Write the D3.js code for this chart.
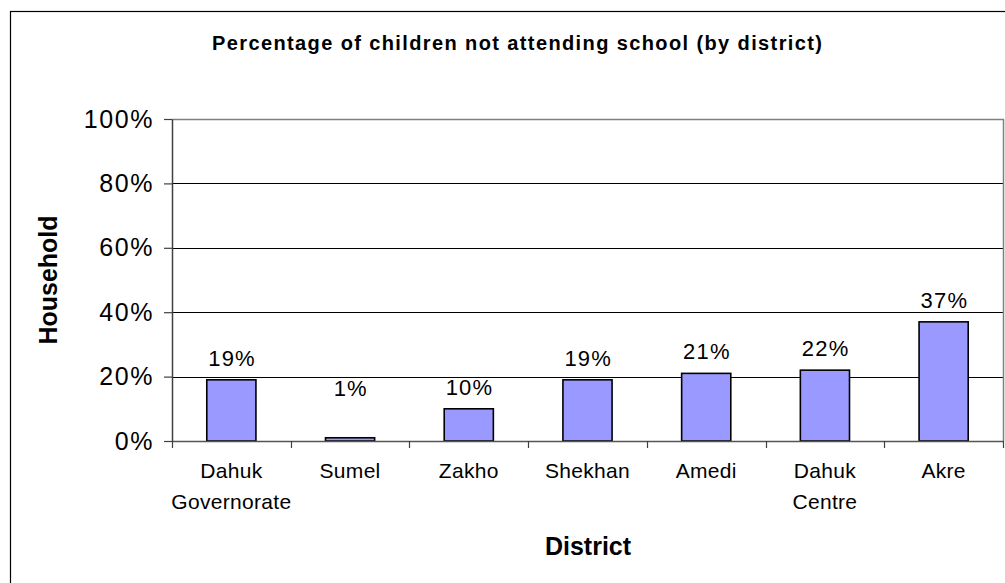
<!DOCTYPE html>
<html>
<head>
<meta charset="utf-8">
<script src="https://cdn.jsdelivr.net/npm/d3@7"></script>
<style>
  html, body { margin: 0; padding: 0; background: #fff; }
  svg { display: block; font-family: Arial, "Liberation Sans", sans-serif; }
</style>
</head>
<body>
<svg id="chart" width="1005" height="583"></svg>
<script>
const categories = [["Dahuk", "Governorate"], ["Sumel"], ["Zakho"], ["Shekhan"], ["Amedi"], ["Dahuk", "Centre"], ["Akre"]];
const values = [0.19, 0.01, 0.10, 0.19, 0.21, 0.22, 0.37];
const valueLabels = ["19%", "1%", "10%", "19%", "21%", "22%", "37%"];
const yTicks = [0, 0.2, 0.4, 0.6, 0.8, 1.0];
const yTickLabels = ["0%", "20%", "40%", "60%", "80%", "100%"];
const titleText = "Percentage of children not attending school (by district)";
const xTitle = "District";
const yTitle = "Household";

(function () {
const svg = d3.select("#chart");
const pL = 172, pR = 1003, pT = 119, pB = 441;
const keys = categories.map((c, i) => i);

const x = d3.scaleBand().domain(keys).range([pL, pR]).paddingInner(0.586).paddingOuter(0.293);
const y = d3.scaleLinear().domain([0, 1]).range([pB, pT]);

// outer frame
svg.append("rect").attr("x", 10.5).attr("y", 11.5).attr("width", 1010).attr("height", 600)
  .attr("fill", "#fff").attr("stroke", "#000").attr("stroke-width", 1.2);

// title
svg.append("text").attr("x", 212).attr("y", 50)
  .attr("textLength", 610).attr("lengthAdjust", "spacing")
  .attr("font-size", 20).attr("font-weight", "bold").attr("fill", "#000")
  .text(titleText);

// gridlines
svg.append("g").selectAll("line").data(yTicks.filter(t => t > 0 && t < 1)).join("line")
  .attr("x1", pL).attr("x2", pR)
  .attr("y1", d => Math.round(y(d)) + 0.5).attr("y2", d => Math.round(y(d)) + 0.5)
  .attr("stroke", "#000").attr("stroke-width", 1);

// plot border top/right (gray)
svg.append("path")
  .attr("d", `M${pL},${pT + 0.5}H${pR + 0.5}V${pB}`)
  .attr("fill", "none").attr("stroke", "#808080").attr("stroke-width", 1.5);

// bars
svg.append("g").selectAll("rect").data(values).join("rect")
  .attr("x", (d, i) => x(i))
  .attr("y", d => y(d))
  .attr("width", x.bandwidth())
  .attr("height", d => y(0) - y(d))
  .attr("fill", "#9999FF").attr("stroke", "#000").attr("stroke-width", 1.6);

// value labels
svg.append("g").selectAll("text").data(values).join("text")
  .attr("x", (d, i) => x(i) + x.bandwidth() / 2 + 0.7)
  .attr("y", d => Math.min(y(d) - 14, y(0.14)))
  .attr("text-anchor", "middle").attr("font-size", 22).attr("letter-spacing", 1.2)
  .attr("fill", "#000")
  .text((d, i) => valueLabels[i]);

// y axis
const yAxis = d3.axisLeft(y).tickValues(yTicks).tickFormat((d, i) => yTickLabels[i])
  .tickSize(8).tickSizeOuter(0).tickPadding(10);
const gy = svg.append("g").attr("transform", `translate(${pL},0)`).call(yAxis);
gy.select(".domain").attr("stroke", "#404040").attr("stroke-width", 1.5);
gy.selectAll(".tick line").attr("stroke", "#404040").attr("stroke-width", 1.2);
gy.selectAll(".tick text").attr("font-size", 25).attr("letter-spacing", 1.6)
  .attr("font-family", "Arial, 'Liberation Sans', sans-serif").attr("fill", "#000");

// x axis line
svg.append("line").attr("x1", pL).attr("x2", pR + 0.5)
  .attr("y1", pB + 0.5).attr("y2", pB + 0.5)
  .attr("stroke", "#555").attr("stroke-width", 1.5);

// category boundary ticks
const step = x.step();
const edges = keys.map(k => x(k) - (step - x.bandwidth()) / 2).concat([pR]);
svg.append("g").selectAll("line").data(edges).join("line")
  .attr("x1", d => Math.round(d) + 0.5).attr("x2", d => Math.round(d) + 0.5)
  .attr("y1", pB).attr("y2", pB + 7)
  .attr("stroke", "#404040").attr("stroke-width", 1.2);

// category labels
const cl = svg.append("g").selectAll("text").data(categories).join("text")
  .attr("x", (d, i) => x(i) + x.bandwidth() / 2)
  .attr("y", 478)
  .attr("text-anchor", "middle").attr("font-size", 21).attr("letter-spacing", 0.3)
  .attr("fill", "#000");
cl.selectAll("tspan").data(d => d).join("tspan")
  .attr("x", function () { return this.parentNode.getAttribute("x"); })
  .attr("dy", (d, j) => j === 0 ? 0 : 31)
  .text(d => d);

// axis titles
svg.append("text").attr("x", 588).attr("y", 555)
  .attr("text-anchor", "middle").attr("font-size", 25).attr("font-weight", "bold")
  .text(xTitle);

svg.append("text").attr("transform", `translate(57,${(pT + pB) / 2}) rotate(-90)`)
  .attr("text-anchor", "middle").attr("font-size", 25).attr("font-weight", "bold")
  .text(yTitle);
})();
</script>
</body>
</html>
